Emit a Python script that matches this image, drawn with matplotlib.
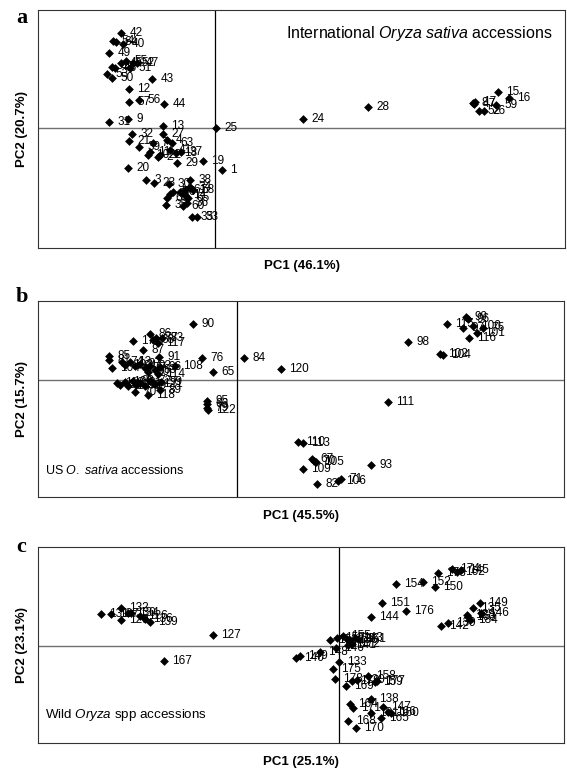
import matplotlib.pyplot as plt

plt.rcParams['font.family'] = ['Liberation Sans', 'DejaVu Sans']
plt.rcParams['mathtext.fontset'] = 'custom'
plt.rcParams['mathtext.it'] = 'Liberation Sans:italic'
plt.rcParams['mathtext.rm'] = 'Liberation Sans'

# ---- panel a : international O. sativa (PC1 46.1%, PC2 20.7%)
a_x = [-9.4, -10.2, -9.9, -9.2, -10.6, -9.4, -8.9, -8.2, -7.8, -8.5, -10.3, -10.0, -10.8, -10.3,
       -6.3, -8.6, -8.6, -7.6, -5.1, -10.6, -8.7, -5.2, 0.1, -8.3, -8.6, -5.2, -4.8, -4.3,
       -7.6, -6.2, -6.5, -6.7, -5.7, -5.5, -4.5, -3.9, -3.8, -3.4, -1.2, 0.7, -8.7, -6.9,
       -6.1, -4.6, -2.5, -4.2, -4.5, -3.5, -3.0, -2.5, -2.2, -3.0, -2.7, -2.8, -4.8, -4.9,
       -3.2, -2.3, -1.8,
       8.8, 15.3, 25.8, 26.0, 25.9, 26.4, 28.3, 29.4, 28.1, 26.9]
a_y = [9.5, 8.7, 8.6, 8.4, 7.5, 6.5, 6.7, 6.5, 6.5, 6.0, 6.1, 6.0, 5.4, 5.0,
       4.9, 3.9, 2.6, 2.8, 2.4, 0.6, 0.9, 0.2, 0.0, -0.6, -1.3, -0.6, -1.2, -1.5,
       -1.9, -1.5, -2.4, -2.7, -2.9, -2.7, -2.2, -2.5, -3.5, -2.4, -3.3, -4.2, -4.0, -5.2,
       -5.5, -5.6, -5.2, -6.4, -6.6, -6.4, -6.2, -5.9, -6.2, -6.7, -7.0, -7.5, -7.0, -7.7,
       -7.8, -8.9, -8.9,
       0.9, 2.1, 2.5, 2.6, 2.4, 1.7, 3.6, 3.0, 2.3, 1.7]
a_lab = ['42', '54', '64', '40', '49', '45', '55', '52', '47', '51', '48', '46', '53', '50',
         '43', '12', '57', '56', '44', '31', '9', '13', '25', '32', '21', '27', '4', '63',
         '39', '7', '11', '10', '2', '22', '41', '18', '29', '37', '19', '1', '20', '3',
         '23', '30', '38', '5', '62', '6', '61', '34', '58', '14', '65', '36', '66', '35',
         '60', '35', '33',
         '24', '28', '8', '17', '47', '52', '15', '16', '59', '26']

# ---- panel b : US O. sativa (PC1 45.5%, PC2 15.7%)
b_x = [-4.4, -10.4, -8.7, -8.4, -8.1, -7.5, -7.9, -9.4, -7.8, -12.8, -12.8, -12.5,
       -11.5, -11.2, -10.7, -10.2, -9.7, -9.2, -8.7, -8.2, -7.7, -8.9, -7.9,
       -3.5, 0.7, -6.2, -2.4, 4.4,
       -12.0, -11.7, -11.2, -10.9, -10.4, -10.1, -9.7, -9.2, -8.7, -8.2, -7.6, -7.7,
       -10.2, -8.9, -3.0, -3.0, -3.0, -2.9,
       15.1, 6.1, 6.6, 7.5, 7.7, 7.9, 6.6, 13.4, 8.0, 10.4, 10.1,
       22.9, 23.1, 21.0, 22.6, 23.6, 24.6, 24.0, 23.2, 17.1, 20.3, 20.6]
b_y = [5.6, 3.9, 4.6, 4.0, 4.2, 4.2, 3.7, 3.0, 2.3, 2.4, 2.0, 1.2,
       1.8, 1.5, 1.8, 1.4, 1.6, 1.2, 1.4, 1.0, 1.3, 0.8, 0.6,
       2.2, 2.2, 1.4, 0.8, 1.1,
       -0.3, -0.5, -0.2, -0.6, -0.1, -0.5, -0.3, -0.6, -0.1, -0.4, -0.2, -1.0,
       -1.2, -1.5, -2.1, -2.4, -2.8, -3.0,
       -2.2, -6.2, -6.3, -7.9, -8.1, -8.2, -8.9, -8.5, -10.4, -9.9, -10.1,
       6.3, 6.1, 5.6, 5.2, 5.4, 5.2, 4.7, 4.2, 3.8, 2.6, 2.5]
b_lab = ['90', '17', '86', '68', '78', '73', '117', '87', '91', '85', '81', '104',
         '74', '103', '12', '94', '97', '77', '92', '83', '96', '80', '114',
         '76', '84', '108', '65', '120',
         '119', '88', '100', '107', '89', '112', '81', '69', '72', '121', '99', '89',
         '70', '118', '95', '66', '79', '122',
         '111', '110', '113', '67', '70', '105', '109', '93', '82', '71', '106',
         '99', '96', '115', '97', '100', '75', '101', '116', '98', '102', '104']

# ---- panel c : wild Oryza spp (PC1 25.1%, PC2 23.1%)
c_x = [-23.8, -22.8, -21.8, -21.8, -21.1, -20.8, -19.9, -19.4, -18.9,
       -12.6, -17.5, -4.3, -3.9, -1.9,
       -0.9, -0.2, 0.4, 0.8, 1.1, 1.6, 1.9, 0.9, 1.3, -0.3,
       0.0, -0.6, -0.4, 1.3, 1.8, 0.7, 2.9, 3.6, 3.8,
       3.2, 1.1, 1.4, 4.4, 3.2, 4.9, 5.2, 4.2, 0.9, 1.7,
       11.3, 11.8, 12.2, 9.9, 5.7, 8.4, 9.6, 4.3, 6.7, 3.2,
       14.1, 13.4, 14.2, 12.8, 12.9, 13.1, 10.2, 10.9]
c_y = [3.2, 3.2, 3.8, 2.6, 3.3, 3.3, 3.0, 2.7, 2.4,
       1.1, -1.5, -1.2, -1.0, -0.6,
       0.6, 0.8, 1.0, 0.7, 0.6, 0.8, 0.7, 0.1, 0.2, -0.2,
       -1.6, -2.3, -3.3, -3.5, -3.4, -4.0, -3.0, -3.6, -3.5,
       -5.3, -5.8, -6.2, -6.1, -6.7, -6.6, -6.7, -7.2, -7.5, -8.2,
       7.7, 7.4, 7.6, 7.3, 6.2, 6.4, 5.9, 4.3, 3.5, 2.9,
       4.3, 3.8, 3.3, 3.1, 2.9, 2.6, 2.0, 2.3]
c_lab = ['131', '137', '132', '129', '130', '134', '126', '136', '139',
         '127', '167', '140', '149', '148',
         '153', '157', '155', '152', '156', '143', '161', '141', '172', '146',
         '133', '175', '178', '179', '130', '169', '158', '159', '177',
         '138', '164', '171', '147', '181', '166', '160', '165', '168', '170',
         '174', '162', '145', '173', '154', '152', '150', '151', '176', '144',
         '149', '135', '146', '128', '163', '184', '142', '139']

W, H = 567, 768

panels = [
    dict(x=a_x, y=a_y, lab=a_lab, xlim=(-17.7, 35.0), ylim=(-12.0, 11.8),
         box=(38, 10, 565, 248), letter='a', letter_base=23,
         xl='PC1 (46.1%)', yl='PC2 (20.7%)',
         title='International $\\mathit{Oryza\\ sativa}$ accessions', tpos=(0.47, 0.90), tsize=11.5),
    dict(x=b_x, y=b_y, lab=b_lab, xlim=(-19.9, 32.7), ylim=(-11.7, 7.9),
         box=(38, 301, 564, 497), letter='b', letter_base=302,
         xl='PC1 (45.5%)', yl='PC2 (15.7%)',
         title='US $\\mathit{O.\\ sativa}$ accessions', tpos=(0.013, 0.135), tsize=9.0),
    dict(x=c_x, y=c_y, lab=c_lab, xlim=(-30.1, 22.5), ylim=(-9.7, 9.9),
         box=(38, 547, 564, 743), letter='c', letter_base=552,
         xl='PC1 (25.1%)', yl='PC2 (23.1%)',
         title='Wild $\\mathit{Oryza}$ spp accessions', tpos=(0.013, 0.145), tsize=9.6),
]

fig = plt.figure(figsize=(W / 100, H / 100), dpi=100)

for p in panels:
    l, t, r, b = p['box']
    ax = fig.add_axes([l / W, 1 - b / H, (r - l) / W, (b - t) / H])
    ax.axhline(0, color='#707070', lw=1.0, zorder=1)
    ax.axvline(0, color='black', lw=0.9, zorder=1)
    ax.scatter(p['x'], p['y'], marker='D', s=20, color='black', linewidths=0, zorder=3)
    for xi, yi, txt in zip(p['x'], p['y'], p['lab']):
        ax.annotate(txt, (xi, yi), xytext=(6, 0), textcoords='offset points',
                    fontsize=8.5, va='center', ha='left', zorder=4)
    ax.set_xlim(*p['xlim'])
    ax.set_ylim(*p['ylim'])
    ax.set_xticks([])
    ax.set_yticks([])
    for s in ax.spines.values():
        s.set_linewidth(0.8)
        s.set_color('#333333')
    ax.set_xlabel(p['xl'], fontsize=9.5, fontweight='bold', labelpad=9)
    ax.set_ylabel(p['yl'], fontsize=9.5, fontweight='bold', labelpad=7)
    ax.text(p['tpos'][0], p['tpos'][1], p['title'], transform=ax.transAxes,
            fontsize=p['tsize'], ha='left', va='center')
    fig.text(16 / W, 1 - p['letter_base'] / H, p['letter'], fontsize=16,
             fontweight='bold', family='Liberation Serif', ha='left', va='baseline')

fig.savefig('out.png', dpi=100)
